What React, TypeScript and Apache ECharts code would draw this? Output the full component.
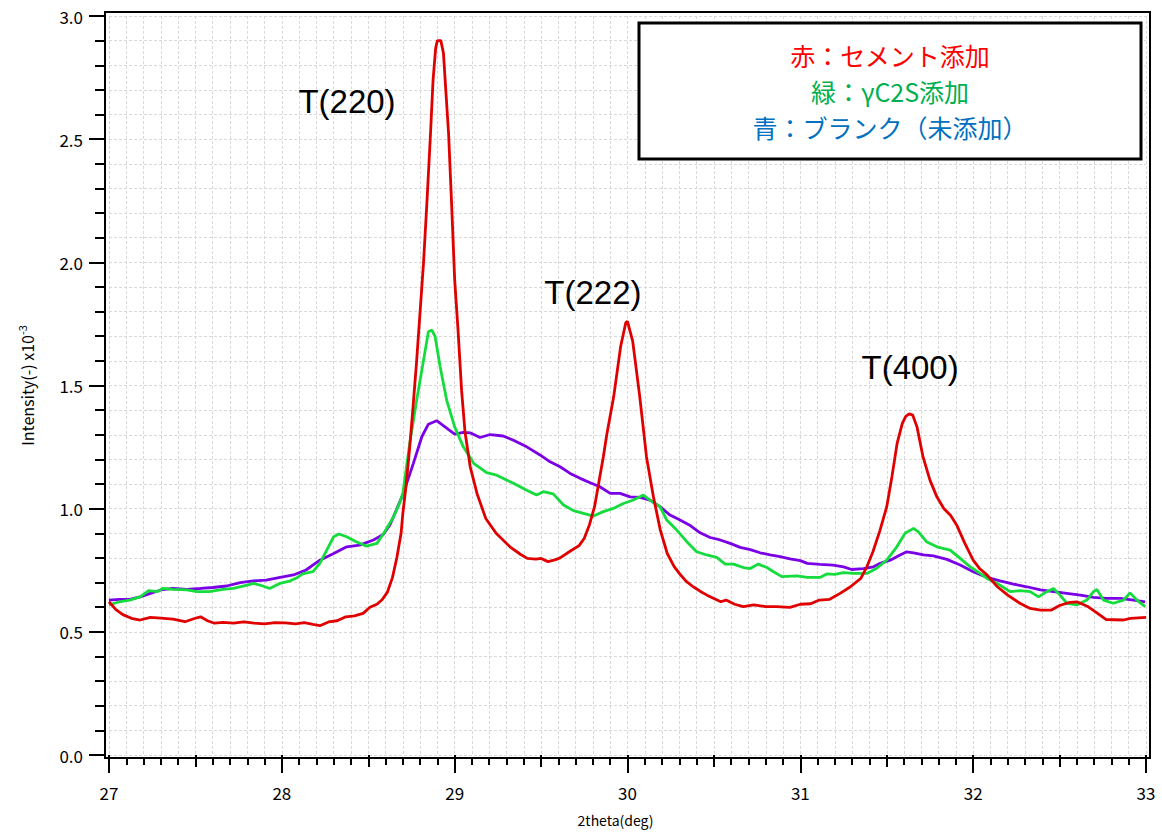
import { useEffect, useRef } from "react";
import * as echarts from "echarts";

// 2theta (deg) vs intensity (x10^-3)
const redData: [number, number][] = [
  [27.0, 0.622], [27.04, 0.59], [27.08, 0.57], [27.13, 0.555], [27.18, 0.548], [27.24, 0.559],
  [27.3, 0.556], [27.37, 0.552], [27.44, 0.541], [27.49, 0.553], [27.53, 0.561], [27.57, 0.545],
  [27.61, 0.535], [27.66, 0.538], [27.72, 0.535], [27.78, 0.54], [27.84, 0.535], [27.9, 0.532],
  [27.96, 0.537], [28.02, 0.536], [28.08, 0.532], [28.13, 0.537], [28.18, 0.53], [28.22, 0.525],
  [28.27, 0.54], [28.32, 0.545], [28.37, 0.561], [28.42, 0.565], [28.47, 0.575], [28.51, 0.6],
  [28.55, 0.612], [28.58, 0.63], [28.61, 0.66], [28.64, 0.72], [28.665, 0.8], [28.69, 0.9],
  [28.7, 0.98], [28.72, 1.1], [28.74, 1.25], [28.76, 1.42], [28.78, 1.6], [28.8, 1.8],
  [28.82, 2.0], [28.84, 2.25], [28.86, 2.52], [28.875, 2.74], [28.89, 2.87], [28.9, 2.9],
  [28.92, 2.9], [28.935, 2.85], [28.945, 2.74], [28.965, 2.52], [28.983, 2.225], [29.0, 1.93],
  [29.02, 1.72], [29.04, 1.48], [29.06, 1.31], [29.09, 1.17], [29.13, 1.06], [29.18, 0.96],
  [29.24, 0.9], [29.32, 0.845], [29.38, 0.815], [29.42, 0.798], [29.47, 0.795], [29.5, 0.798],
  [29.54, 0.785], [29.58, 0.792], [29.61, 0.8], [29.67, 0.828], [29.72, 0.85], [29.75, 0.88],
  [29.78, 0.935], [29.81, 1.01], [29.83, 1.09], [29.86, 1.21], [29.88, 1.3], [29.92, 1.454],
  [29.96, 1.657], [29.99, 1.755], [30.0, 1.76], [30.03, 1.68], [30.07, 1.46], [30.11, 1.21],
  [30.15, 1.048], [30.19, 0.913], [30.23, 0.818], [30.27, 0.765], [30.3, 0.737], [30.34, 0.705],
  [30.38, 0.683], [30.42, 0.665], [30.46, 0.649], [30.5, 0.635], [30.54, 0.622], [30.57, 0.629],
  [30.62, 0.612], [30.67, 0.602], [30.73, 0.609], [30.8, 0.602], [30.86, 0.602], [30.94, 0.599],
  [31.0, 0.612], [31.06, 0.614], [31.11, 0.629], [31.17, 0.632], [31.23, 0.656], [31.29, 0.683],
  [31.35, 0.717], [31.385, 0.764], [31.42, 0.825], [31.46, 0.91], [31.5, 1.008], [31.53, 1.13],
  [31.56, 1.265], [31.59, 1.346], [31.61, 1.375], [31.63, 1.385], [31.65, 1.38], [31.675, 1.332],
  [31.71, 1.21], [31.75, 1.116], [31.79, 1.048], [31.83, 1.001], [31.87, 0.972], [31.905, 0.933],
  [31.95, 0.862], [32.0, 0.791], [32.04, 0.755], [32.08, 0.731], [32.14, 0.683], [32.2, 0.649],
  [32.27, 0.616], [32.33, 0.595], [32.39, 0.588], [32.45, 0.588], [32.5, 0.607], [32.56, 0.62],
  [32.6, 0.622], [32.66, 0.604], [32.72, 0.575], [32.77, 0.55], [32.87, 0.548], [32.91, 0.555],
  [33.0, 0.559],
];

const greenData: [number, number][] = [
  [27.0, 0.609], [27.06, 0.622], [27.12, 0.629], [27.18, 0.642], [27.23, 0.667], [27.28, 0.663],
  [27.31, 0.676], [27.37, 0.672], [27.45, 0.67], [27.51, 0.663], [27.58, 0.663], [27.66, 0.672],
  [27.72, 0.676], [27.8, 0.69], [27.835, 0.697], [27.89, 0.686], [27.93, 0.676], [27.99, 0.697],
  [28.05, 0.707], [28.09, 0.721], [28.12, 0.735], [28.18, 0.744], [28.22, 0.778], [28.26, 0.832],
  [28.3, 0.886], [28.33, 0.897], [28.375, 0.886], [28.43, 0.866], [28.49, 0.848], [28.55, 0.859],
  [28.59, 0.9], [28.645, 0.965], [28.68, 1.02], [28.7, 1.062], [28.74, 1.265], [28.78, 1.44],
  [28.82, 1.603], [28.848, 1.718], [28.868, 1.725], [28.887, 1.698], [28.916, 1.576], [28.954, 1.44],
  [29.0, 1.332], [29.05, 1.251], [29.11, 1.184], [29.185, 1.146], [29.243, 1.136], [29.3, 1.116],
  [29.34, 1.103], [29.417, 1.075], [29.474, 1.055], [29.513, 1.069], [29.57, 1.06], [29.63, 1.015],
  [29.687, 0.992], [29.745, 0.981], [29.803, 0.97], [29.86, 0.988], [29.918, 1.001], [29.976, 1.021],
  [30.034, 1.035], [30.092, 1.055], [30.13, 1.035], [30.188, 1.008], [30.227, 0.954], [30.285, 0.913],
  [30.343, 0.866], [30.4, 0.825], [30.458, 0.812], [30.516, 0.802], [30.565, 0.775], [30.613, 0.775],
  [30.67, 0.761], [30.71, 0.757], [30.757, 0.775], [30.806, 0.761], [30.845, 0.744], [30.893, 0.724],
  [30.98, 0.727], [31.04, 0.721], [31.114, 0.721], [31.153, 0.735], [31.2, 0.733], [31.25, 0.74],
  [31.307, 0.737], [31.385, 0.737], [31.44, 0.757], [31.5, 0.791], [31.558, 0.845], [31.606, 0.9],
  [31.655, 0.92], [31.683, 0.906], [31.73, 0.866], [31.79, 0.845], [31.867, 0.832], [31.925, 0.798],
  [31.983, 0.764], [32.04, 0.737], [32.08, 0.717], [32.137, 0.697], [32.214, 0.663], [32.27, 0.667],
  [32.33, 0.663], [32.378, 0.642], [32.426, 0.663], [32.465, 0.676], [32.503, 0.649], [32.542, 0.616],
  [32.6, 0.609], [32.658, 0.629], [32.696, 0.663], [32.716, 0.672], [32.754, 0.629], [32.81, 0.616],
  [32.87, 0.629], [32.908, 0.658], [32.947, 0.629], [32.995, 0.602],
];

const purpleData: [number, number][] = [
  [27.0, 0.629], [27.06, 0.632], [27.12, 0.632], [27.18, 0.642], [27.24, 0.656], [27.3, 0.67],
  [27.37, 0.676], [27.45, 0.672], [27.53, 0.676], [27.6, 0.68], [27.68, 0.686], [27.76, 0.7],
  [27.835, 0.707], [27.91, 0.71], [27.99, 0.721], [28.067, 0.731], [28.14, 0.751], [28.22, 0.791],
  [28.3, 0.818], [28.375, 0.845], [28.45, 0.852], [28.53, 0.873], [28.587, 0.895], [28.626, 0.935],
  [28.66, 0.99], [28.703, 1.062], [28.761, 1.184], [28.81, 1.292], [28.848, 1.343], [28.896, 1.357],
  [28.944, 1.332], [29.0, 1.303], [29.05, 1.31], [29.089, 1.308], [29.147, 1.289], [29.205, 1.301],
  [29.28, 1.295], [29.34, 1.278], [29.417, 1.251], [29.494, 1.218], [29.552, 1.19], [29.61, 1.17],
  [29.668, 1.143], [29.726, 1.123], [29.784, 1.105], [29.84, 1.089], [29.9, 1.062], [29.957, 1.062],
  [30.015, 1.048], [30.073, 1.046], [30.13, 1.035], [30.188, 1.008], [30.246, 0.974], [30.304, 0.954],
  [30.36, 0.933], [30.42, 0.902], [30.478, 0.883], [30.536, 0.873], [30.594, 0.859], [30.652, 0.843],
  [30.71, 0.834], [30.767, 0.821], [30.825, 0.812], [30.883, 0.805], [30.94, 0.796], [31.0, 0.789],
  [31.04, 0.778], [31.114, 0.774], [31.19, 0.771], [31.25, 0.764], [31.297, 0.753], [31.365, 0.757],
  [31.423, 0.764], [31.462, 0.778], [31.52, 0.791], [31.577, 0.812], [31.616, 0.825], [31.655, 0.821],
  [31.713, 0.812], [31.77, 0.808], [31.848, 0.794], [31.925, 0.771], [32.0, 0.744], [32.08, 0.721],
  [32.156, 0.707], [32.233, 0.694], [32.31, 0.683], [32.39, 0.67], [32.465, 0.663], [32.542, 0.656],
  [32.62, 0.649], [32.696, 0.64], [32.773, 0.636], [32.85, 0.636], [32.928, 0.629], [32.995, 0.622],
];

const peakNames = ["T(220)", "T(222)", "T(400)"];
const peakX = [28.377, 29.8, 31.635];
const peakY = [2.654, 1.879, 1.575];

const legendLines = ["赤：セメント添加", "緑：γC2S添加", "青：ブランク（未添加）"];
const legendColors = ["#ff0000", "#00b050", "#0070c0"];

const xMin = 27;
const xMax = 33;
const yMin = 0;
const yMax = 3;

const gridLine = { color: "#d9d9d9", type: [3, 2] as number[], width: 1 };
const tickFont = "'Noto Sans CJK JP', 'Noto Sans', sans-serif";

export default function App() {
  const ref = useRef<HTMLDivElement>(null);
  useEffect(() => {
    if (!ref.current) return;
    const chart = echarts.init(ref.current, undefined, { renderer: "svg" });
    const option: any = {
      animation: false,
      backgroundColor: "#ffffff",
      grid: { left: 109, right: 16, top: 16, bottom: 77 },
      xAxis: [
        {
          type: "value",
          min: xMin,
          max: xMax,
          interval: 1,
          offset: 3,
          name: "2theta(deg)",
          nameLocation: "middle",
          nameGap: 55,
          nameTextStyle: { fontSize: 14, color: "#000", fontFamily: tickFont, padding: [0, 24, 0, 0] },
          axisLine: { show: true, onZero: false, lineStyle: { color: "#000", width: 2 } },
          axisTick: { show: true, length: 15, lineStyle: { color: "#000", width: 2 } },
          minorTick: { show: true, splitNumber: 10, length: 7, lineStyle: { color: "#000", width: 2 } },
          axisLabel: { fontSize: 17, color: "#000", margin: 26, fontFamily: tickFont },
          splitLine: { show: true, lineStyle: gridLine },
          minorSplitLine: { show: true, lineStyle: gridLine },
        },
        {
          type: "value",
          min: xMin,
          max: xMax,
          interval: 0.5,
          offset: 3,
          position: "bottom",
          axisLine: { show: false },
          axisTick: { show: true, length: 12, lineStyle: { color: "#000", width: 2 } },
          axisLabel: { show: false },
          splitLine: { show: false },
        },
      ],
      yAxis: {
        type: "value",
        min: yMin,
        max: yMax,
        interval: 0.5,
        offset: 4,
        name: "Intensity(-) x10{sup|-3}",
        nameLocation: "middle",
        nameRotate: 90,
        nameGap: 68,
        nameTextStyle: {
          fontSize: 16,
          color: "#000",
          fontFamily: tickFont,
          rich: { sup: { fontSize: 11, color: "#000", fontFamily: tickFont, padding: [0, 0, 10, 0] } },
        },
        axisLine: { show: true, onZero: false, lineStyle: { color: "#000", width: 2 } },
        axisTick: { show: true, length: 16, lineStyle: { color: "#000", width: 2 } },
        minorTick: { show: true, splitNumber: 5, length: 10, lineStyle: { color: "#000", width: 2 } },
        axisLabel: {
          fontSize: 17,
          color: "#000",
          margin: 22,
          fontFamily: tickFont,
          formatter: (v: number) => v.toFixed(1),
        },
        splitLine: { show: true, lineStyle: gridLine },
        minorSplitLine: { show: true, lineStyle: gridLine },
      },
      series: [
        {
          type: "line",
          name: "blank",
          data: purpleData,
          showSymbol: false,
          symbol: "none",
          lineStyle: { color: "#7a00e6", width: 2.8 },
          z: 3,
        },
        {
          type: "line",
          name: "gC2S",
          data: greenData,
          showSymbol: false,
          symbol: "none",
          lineStyle: { color: "#14dc3c", width: 2.8 },
          z: 4,
        },
        {
          type: "line",
          name: "cement",
          data: redData,
          showSymbol: false,
          symbol: "none",
          lineStyle: { color: "#e00000", width: 2.8 },
          z: 5,
          markPoint: {
            symbol: "circle",
            symbolSize: 1,
            itemStyle: { color: "rgba(0,0,0,0)" },
            label: {
              show: true,
              position: "inside",
              formatter: "{b}",
              fontSize: 33,
              color: "#000",
              fontFamily: "'Liberation Sans', Arial, sans-serif",
            },
            data: peakNames.map((n, i) => ({ name: n, coord: [peakX[i], peakY[i]] })),
          },
        },
      ],
      graphic: [
        {
          type: "rect",
          shape: { x: 105, y: 12, width: 1045, height: 746 },
          style: { fill: "none", stroke: "#000", lineWidth: 2 },
          z: 50,
          silent: true,
        },
        {
          type: "rect",
          shape: { x: 639, y: 23, width: 502, height: 136 },
          style: { fill: "#fff", stroke: "#000", lineWidth: 3 },
          z: 60,
          silent: true,
        },
        ...legendLines.map((t, i) => ({
          type: "text",
          x: 890,
          y: 55 + i * 36,
          z: 61,
          silent: true,
          style: {
            text: t,
            fill: legendColors[i],
            fontSize: 25,
            fontFamily: "'Noto Sans CJK JP', sans-serif",
            align: "center",
            verticalAlign: "middle",
          },
        })),
      ],
    };
    chart.setOption(option);
    return () => chart.dispose();
  }, []);
  return (
    <div
      ref={ref}
      style={{ position: "absolute", left: 0, top: 0, width: 1162, height: 832, background: "#fff" }}
    />
  );
}
